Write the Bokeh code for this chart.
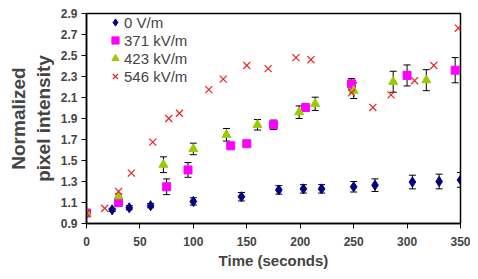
from bokeh.plotting import figure
from bokeh.models import ColumnDataSource, Whisker, TeeHead, FixedTicker, Legend, LegendItem, Range1d
from bokeh.embed import file_html
from bokeh.resources import INLINE

# ---- data ----
t0 = [0, 24, 40, 60, 100, 145, 180, 203, 220, 250, 270, 305, 330, 350]
y0 = [1.00, 1.03, 1.05, 1.07, 1.11, 1.155, 1.22, 1.23, 1.23, 1.25, 1.265, 1.295, 1.30, 1.315]
e0 = [0, 0.015, 0.02, 0.02, 0.035, 0.04, 0.04, 0.04, 0.04, 0.05, 0.06, 0.065, 0.07, 0.07]

t1 = [0, 30, 75, 95, 135, 150, 175, 205, 248, 300, 345]
y1 = [1.00, 1.10, 1.25, 1.41, 1.64, 1.66, 1.84, 2.005, 2.23, 2.31, 2.36]
e1 = [0, 0.02, 0.075, 0.07, 0.015, 0.015, 0.045, 0.03, 0.05, 0.10, 0.12]

t2 = [0, 30, 72, 100, 131, 160, 199, 214, 250, 287, 318]
y2 = [1.00, 1.16, 1.46, 1.61, 1.745, 1.84, 1.96, 2.04, 2.165, 2.25, 2.265]
e2 = [0, 0.02, 0.075, 0.055, 0.06, 0.05, 0.06, 0.063, 0.075, 0.10, 0.10]

t3 = [0, 17, 30, 42, 62, 77, 87, 114.5, 128, 150, 170, 196, 210, 248, 268, 285, 307, 325, 348]
y3 = [1.00, 1.045, 1.205, 1.38, 1.675, 1.90, 1.95, 2.175, 2.275, 2.405, 2.375, 2.48, 2.46,
      2.145, 2.005, 2.125, 2.26, 2.405, 2.76]

labels = ["0 V/m", "371 kV/m", "423 kV/m", "546 kV/m"]
x_ticks = [0, 50, 100, 150, 200, 250, 300, 350]
y_ticks = [0.9, 1.1, 1.3, 1.5, 1.7, 1.9, 2.1, 2.3, 2.5, 2.7, 2.9]

FONT = "Liberation Sans"

p = figure(width=470, height=271, output_backend="svg", toolbar_location=None,
           x_range=Range1d(0, 350), y_range=Range1d(0.9, 2.9),
           min_border_left=86, min_border_right=10, min_border_top=13, min_border_bottom=41)
p.xgrid.visible = False
p.ygrid.visible = False
p.outline_line_color = "black"
p.outline_line_width = 1.5
p.background_fill_color = "white"
p.border_fill_color = "white"

def add_err(t, y, e):
    lo = [a - b for a, b in zip(y, e)]
    hi = [a + b for a, b in zip(y, e)]
    src = ColumnDataSource(dict(x=t, lo=lo, hi=hi))
    w = Whisker(source=src, base="x", lower="lo", upper="hi", dimension="height",
                line_color="black", line_width=1,
                upper_head=TeeHead(size=7, line_color="black", line_width=1),
                lower_head=TeeHead(size=7, line_color="black", line_width=1))
    p.add_layout(w)

add_err(t0, y0, e0)
add_err(t1, y1, e1)
add_err(t2, y2, e2)

r0 = p.scatter(t0, y0, marker="diamond", size=10, fill_color="#000080", line_color="#000080")
r1 = p.scatter(t1, y1, marker="square", size=8, fill_color="#FF00FF", line_color="#FF00FF")
r2 = p.scatter(t2, y2, marker="triangle", size=9, fill_color="#99CC00", line_color="#99CC00")
r3 = p.scatter(t3, y3, marker="x", size=10, line_color="#EE2222", line_width=1.2)

legend = Legend(items=[LegendItem(label=labels[i], renderers=[r]) for i, r in enumerate([r0, r1, r2, r3])],
                location=(20, 138), border_line_color=None, background_fill_alpha=0,
                padding=0, spacing=0, margin=0, label_height=18, glyph_height=18, glyph_width=18,
                label_standoff=-3, label_text_font=FONT, label_text_font_size="15px")
p.add_layout(legend)

for ax in (p.xaxis[0], p.yaxis[0]):
    ax.axis_line_color = "black"
    ax.axis_line_width = 1.5
    ax.major_tick_out = 5
    ax.major_tick_in = 0
    ax.minor_tick_out = 0
    ax.minor_tick_in = 0
    ax.major_tick_line_color = "black"
    ax.major_label_text_font = FONT
    ax.major_label_text_font_style = "bold"
    ax.major_label_text_font_size = "12px"
    ax.axis_label_text_font = FONT
    ax.axis_label_text_font_style = "bold"

p.xaxis.ticker = FixedTicker(ticks=x_ticks)
p.yaxis.ticker = FixedTicker(ticks=y_ticks)
p.xaxis.major_label_standoff = 8
p.yaxis.major_label_standoff = 4
p.xaxis.axis_label = "Time (seconds)"
p.xaxis.axis_label_text_font_size = "15px"
p.xaxis.axis_label_standoff = 3
p.yaxis.axis_label = "Normalized\npixel intensity"
p.yaxis.axis_label_text_font_size = "19px"
p.yaxis.axis_label_standoff = 4

open("out.html", "w").write(file_html(p, INLINE))
